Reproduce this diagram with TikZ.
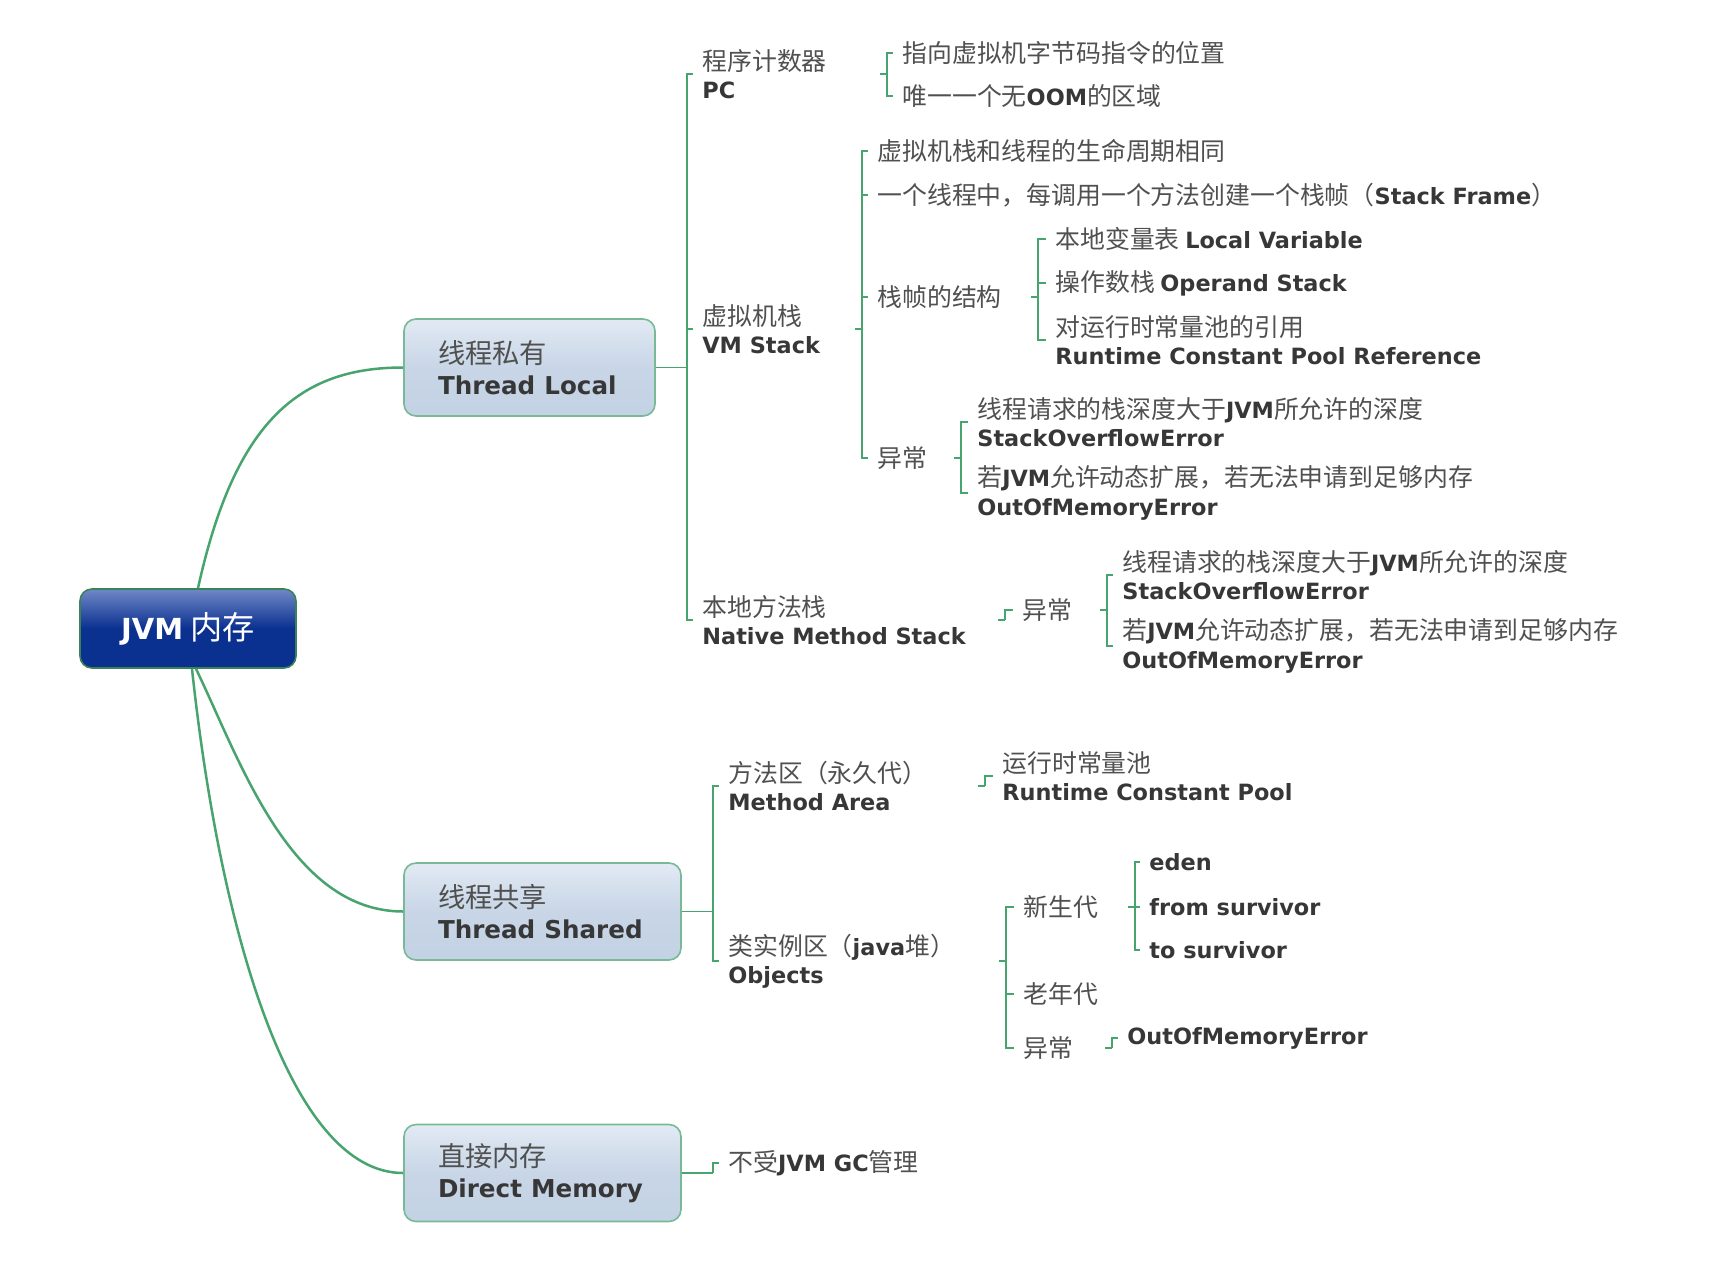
\documentclass[tikz,border=0pt]{standalone}
\usepackage{fontspec}
\setmainfont{Noto Sans CJK SC}[Scale=1.11]
\newfontfamily\enf{DejaVu Sans}
\usetikzlibrary{calc}
\definecolor{linkgreen}{RGB}{72,164,110}
\definecolor{boxline}{RGB}{120,186,150}
\definecolor{boxtop}{RGB}{226,234,244}
\definecolor{boxbot}{RGB}{195,210,228}
\definecolor{jvmtop}{RGB}{112,136,198}
\definecolor{jvmbot}{RGB}{10,48,144}
\definecolor{zhtext}{RGB}{80,80,80}
\definecolor{entext}{RGB}{55,55,55}
\newcommand\ent[1]{{\enf\bfseries\color{entext}#1}}
\tikzset{
  link/.style= {draw=linkgreen, line width=1.25pt},
  brace/.style= {draw=linkgreen, line width=0.8pt},
  topic/.style= {draw=boxline, line width=0.8pt, rounded corners=6pt,
    top color=boxtop, bottom color=boxbot, middle color=boxbot!85!boxtop,
    align=left, inner xsep=17pt, minimum height=48.5pt, text=zhtext,
    font=\fontsize{12.3}{15.3}\selectfont},
  rootbox/.style= {draw=linkgreen!80!black, line width=0.8pt, rounded corners=6pt,
    top color=jvmtop, bottom color=jvmbot, middle color=jvmbot,
    minimum width=108pt, minimum height=39.5pt, text=white,
    font=\fontsize{14.5}{17}\selectfont},
  leaf/.style= {anchor=west, align=left, inner xsep=4.5pt, inner ysep=1pt,
    text=zhtext, font=\fontsize{11.2}{14.2}\selectfont},
}

\begin{document}
\begin{tikzpicture}[x=0.5pt, y=-0.5pt]
  \fill[white] (0,0) rectangle (1712,1280);
  \useasboundingbox (0,0) rectangle (1712,1280);

  % main topics
  \node [rootbox] (jvm) at (188,628.5) {{\enf\bfseries JVM} 内存};
  \node [topic, text width=91.5pt] (tl) at (529.5,367.5) {线程私有\\\ent{Thread Local}};
  \node [topic, text width=104.5pt] (ts) at (542.5,911.5) {线程共享\\\ent{Thread Shared}};
  \node [topic, text width=104.5pt] (dm) at (542.5,1173) {直接内存\\\ent{Direct Memory}};

  \draw [link] ([xshift=5pt]jvm.north) .. controls (235,420) and (300,367.5) .. (tl.west);
  \draw [link] ([xshift=4pt]jvm.south) .. controls (240,760) and (290,911.5) .. (ts.west);
  \draw [link] ([xshift=2pt]jvm.south) .. controls (220,930) and (290,1173) .. (dm.west);

  % thread local
  \node [leaf] (pc) at (693,74) {程序计数器\\\ent{PC}};
  \node [leaf] (vms) at (693,329) {虚拟机栈\\\ent{VM Stack}};
  \node [leaf] (nms) at (693,620) {本地方法栈\\\ent{Native Method Stack}};

  \node [leaf] (pc1) at (893,53) {指向虚拟机字节码指令的位置};
  \node [leaf] (pc2) at (893,96) {唯一一个无\ent{OOM}的区域};

  \node [leaf] (v1) at (868,151) {虚拟机栈和线程的生命周期相同};
  \node [leaf] (v2) at (868,195) {一个线程中，每调用一个方法创建一个栈帧（\ent{Stack Frame}）};
  \node [leaf] (v3) at (868,297) {栈帧的结构};
  \node [leaf] (v4) at (868,458) {异常};

  \node [leaf] (f1) at (1046,239) {本地变量表 \ent{Local Variable}};
  \node [leaf] (f2) at (1046,283) {操作数栈 \ent{Operand Stack}};
  \node [leaf] (f3) at (1046,340) {对运行时常量池的引用\\\ent{Runtime Constant Pool Reference}};

  \node [leaf] (e1) at (968,422) {线程请求的栈深度大于\ent{JVM}所允许的深度\\\ent{StackOverflowError}};
  \node [leaf] (e2) at (968,493) {若\ent{JVM}允许动态扩展，若无法申请到足够内存\\\ent{OutOfMemoryError}};

  \node [leaf] (n1) at (1013,610) {异常};
  \node [leaf] (ne1) at (1113,575) {线程请求的栈深度大于\ent{JVM}所允许的深度\\\ent{StackOverflowError}};
  \node [leaf] (ne2) at (1113,646) {若\ent{JVM}允许动态扩展，若无法申请到足够内存\\\ent{OutOfMemoryError}};

  % thread shared
  \node [leaf] (ma) at (719,786) {方法区（永久代）\\\ent{Method Area}};
  \node [leaf] (ob) at (719,961) {类实例区（\ent{java}堆）\\\ent{Objects}};
  \node [leaf] (rcp) at (993,776) {运行时常量池\\\ent{Runtime Constant Pool}};
  \node [leaf] (ng) at (1014,907) {新生代};
  \node [leaf] (og) at (1014,994) {老年代};
  \node [leaf] (oe) at (1014,1048) {异常};
  \node [leaf] (eden) at (1140,862) {\ent{eden}};
  \node [leaf] (fs) at (1140,907) {\ent{from survivor}};
  \node [leaf] (tsv) at (1140,950) {\ent{to survivor}};
  \node [leaf] (oom) at (1118,1038) {\ent{OutOfMemoryError}};

  % direct memory
  \node [leaf] (gc) at (719,1163) {不受\ent{JVM GC}管理};

  % brackets
  \coordinate (tlb) at (687,367.5);
  \coordinate (pcb) at (887,74);
  \coordinate (vmsb) at (862,329);
  \coordinate (v3b) at (1038,297);
  \coordinate (v4b) at (961,458);
  \coordinate (nmsb) at (1005,620);
  \coordinate (n1b) at (1107,610);
  \coordinate (tsb) at (713,911.5);
  \coordinate (mab) at (985,786);
  \coordinate (obb) at (1006,961);
  \coordinate (ngb) at (1135,907);
  \coordinate (oeb) at (1112,1048);
  \coordinate (dmb) at (713,1173);

  \draw [brace] (tl.east) -- (tlb);
  \draw [brace] (ts.east) -- (tsb);
  \draw [brace] (dm.east) -- (dmb);
  \foreach \b in {pcb,vmsb,v3b,v4b,nmsb,n1b,mab,obb,ngb,oeb}
    \draw [brace] (\b) -- ++(-7,0);

  \foreach \b/\c in {tlb/pc, tlb/vms, tlb/nms, pcb/pc1, pcb/pc2,
      vmsb/v1, vmsb/v2, vmsb/v3, vmsb/v4, v3b/f1, v3b/f2, v3b/f3,
      v4b/e1, v4b/e2, nmsb/n1, n1b/ne1, n1b/ne2, tsb/ma, tsb/ob,
      mab/rcp, obb/ng, obb/og, obb/oe, ngb/eden, ngb/fs, ngb/tsv,
      oeb/oom, dmb/gc}
    \draw [brace] (\b) |- (\c.west);
\end{tikzpicture}
\end{document}
